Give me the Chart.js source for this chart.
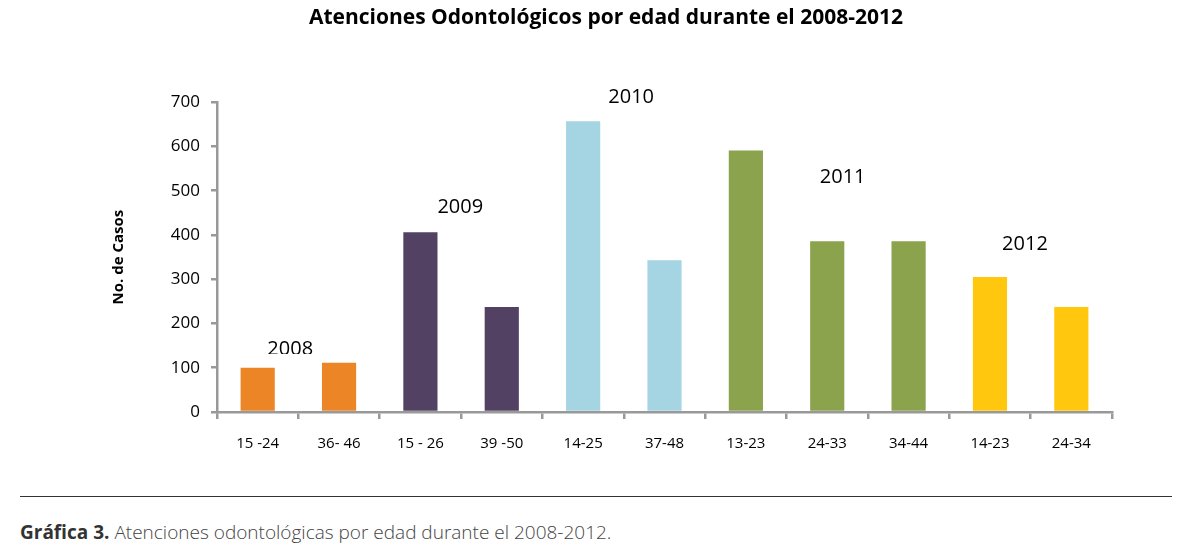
<!DOCTYPE html>
<html>
<head>
<meta charset="utf-8">
<script src="https://cdn.jsdelivr.net/npm/chart.js@4.4.1/dist/chart.umd.min.js"></script>
<style>
  html, body { margin: 0; padding: 0; background: #fff; }
  body { width: 1203px; height: 558px; position: relative; overflow: hidden; font-family: "Open Sans", Lato, sans-serif; }
  #wrap { position: absolute; left: 0; top: 0; width: 1203px; height: 480px; }
  #rule { position: absolute; left: 20px; top: 496px; width: 1152px; height: 0; border-top: 1.3px solid #333; }
  #caption { position: absolute; left: 20px; top: 519px; font-size: 19px; color: #444; font-family: "Open Sans", sans-serif; font-weight: 300; white-space: nowrap; }
  #caption b { font-weight: 700; color: #333; }
</style>
</head>
<body>
<div id="wrap"><canvas id="c" width="1203" height="480"></canvas></div>
<div id="rule"></div>
<div id="caption"><b>Gráfica 3.</b> Atenciones odontológicas por edad durante el 2008-2012.</div>
<script>
const categories = ["15 -24", "36- 46", "15 - 26", "39 -50", "14-25", "37-48", "13-23", "24-33", "34-44", "14-23", "24-34"];
const values = [100, 111, 406, 237, 657, 343, 591, 386, 386, 305, 237];
const years = ["2008", "2008", "2009", "2009", "2010", "2010", "2011", "2011", "2011", "2012", "2012"];
const yearColors = { "2008": "#EC8526", "2009": "#524163", "2010": "#A5D5E3", "2011": "#8AA34C", "2012": "#FFC80E" };
const yTicks = [0, 100, 200, 300, 400, 500, 600, 700];

const yearLabels = {
  id: 'yearLabels',
  afterDatasetsDraw(chart) {
    const { ctx, scales: { x, y } } = chart;
    const items = [
      { t: "2008", i: 0.4, v: 142, clip: 354 },
      { t: "2009", i: 2.49, v: 463 },
      { t: "2010", i: 4.59, v: 711 },
      { t: "2011", i: 7.19, v: 530 },
      { t: "2012", i: 9.43, v: 379 }
    ];
    ctx.save();
    ctx.font = '20px "Open Sans", sans-serif';
    ctx.fillStyle = '#000';
    ctx.textAlign = 'center';
    ctx.textBaseline = 'middle';
    items.forEach(a => {
      const px = x.getPixelForValue(a.i);
      const py = y.getPixelForValue(a.v);
      ctx.save();
      if (a.clip) { ctx.beginPath(); ctx.rect(0, 0, chart.width, a.clip); ctx.clip(); }
      ctx.fillText(a.t, px, py);
      ctx.restore();
    });
    ctx.restore();
  }
};

new Chart(document.getElementById('c'), {
  type: 'bar',
  data: {
    labels: categories,
    datasets: [{
      data: values,
      backgroundColor: years.map(y => yearColors[y]),
      barPercentage: 0.42,
      categoryPercentage: 1.0
    }]
  },
  options: {
    responsive: false,
    animation: false,
    layout: { padding: { left: 100, right: 91, top: 3, bottom: 10 } },
    plugins: {
      legend: { display: false },
      tooltip: { enabled: false },
      title: {
        display: true,
        text: 'Atenciones Odontológicos por edad durante el 2008-2012',
        color: '#000',
        font: { family: '"Open Sans", sans-serif', size: 21, weight: 'bold' },
        padding: { top: 2, bottom: 72 }
      }
    },
    scales: {
      x: {
        grid: { display: true, drawOnChartArea: false, drawTicks: true, tickLength: 7, color: '#999', lineWidth: 2.5, offset: true },
        border: { display: true, color: '#999', width: 2.5 },
        ticks: { color: '#000', font: { family: '"Open Sans", sans-serif', size: 15 }, padding: 16, maxRotation: 0 },
        afterFit(s) { s.height = 58; }
      },
      y: {
        min: 0, max: 700,
        afterBuildTicks(s) { s.ticks = yTicks.map(v => ({ value: v })); },
        grid: { display: true, drawOnChartArea: false, drawTicks: true, tickLength: 6, color: '#999', lineWidth: 2.5 },
        border: { display: true, color: '#999', width: 2.5 },
        ticks: { color: '#000', font: { family: '"Open Sans", sans-serif', size: 17 }, padding: 11 },
        title: { display: true, text: 'No. de Casos', color: '#000', font: { family: '"Open Sans", sans-serif', size: 15, weight: 'bold' }, padding: { top: 10, bottom: 15 } },
        afterFit(s) { s.width = 117; }
      }
    }
  },
  plugins: [yearLabels]
});
</script>
</body>
</html>
